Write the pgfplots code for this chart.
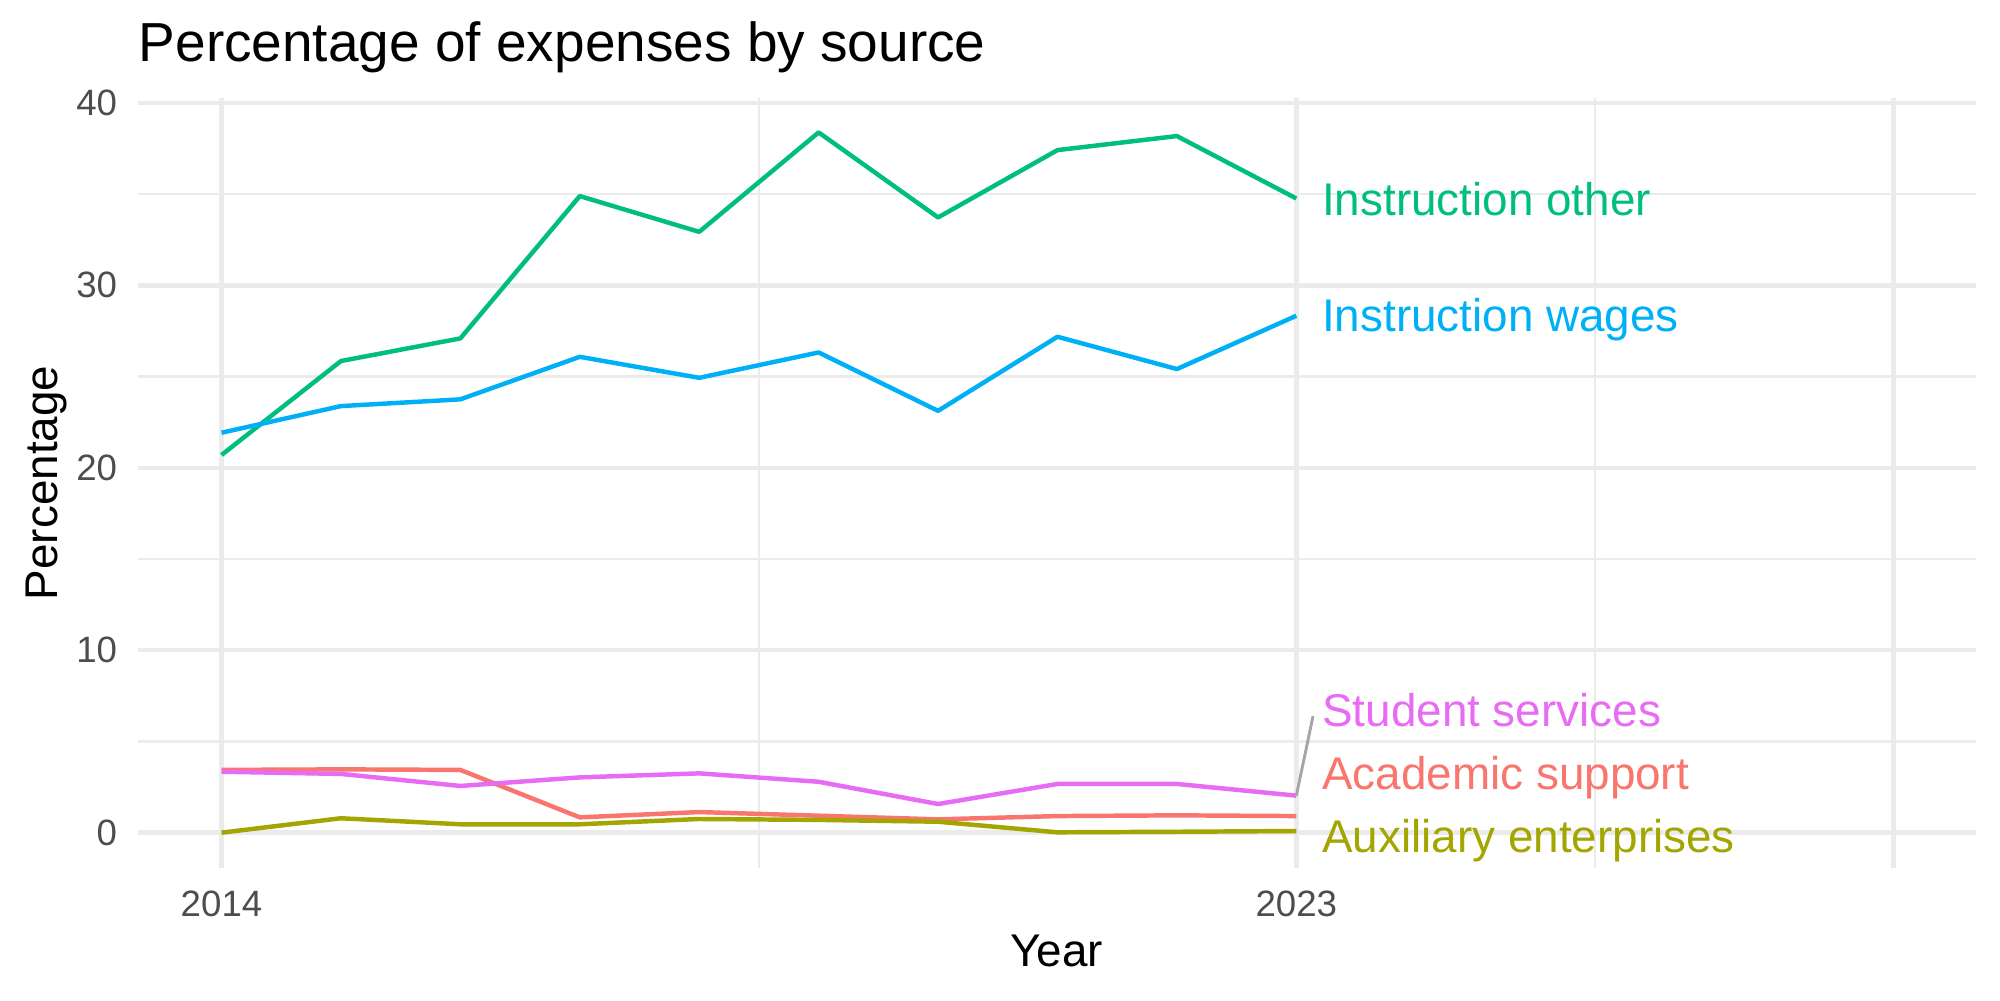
\documentclass[border=0pt]{standalone}
\usepackage{pgfplots}
\usepackage{pgfplotstable}
\pgfplotsset{compat=1.18}
\usepackage{fontspec}
\setmainfont{Liberation Sans}

\definecolor{cAcad}{HTML}{F8766D}
\definecolor{cAux}{HTML}{A3A500}
\definecolor{cOther}{HTML}{00BF7D}
\definecolor{cWages}{HTML}{00B0F6}
\definecolor{cStud}{HTML}{E76BF3}
\definecolor{gridc}{HTML}{EBEBEB}
\definecolor{tickc}{HTML}{4D4D4D}
\definecolor{leader}{HTML}{A6A6A6}

\pgfplotstableread{
Year Acad Aux Other Wages Stud
2014 3.44 0.00 20.70 21.92 3.34
2015 3.47 0.79 25.85 23.38 3.22
2016 3.44 0.46 27.09 23.75 2.56
2017 0.84 0.46 34.89 26.08 3.03
2018 1.13 0.75 32.93 24.93 3.25
2019 0.93 0.70 38.38 26.32 2.79
2020 0.73 0.60 33.72 23.12 1.57
2021 0.91 0.02 37.41 27.18 2.67
2022 0.95 0.05 38.18 25.41 2.67
2023 0.91 0.09 34.76 28.33 2.03
}\datatable

\begin{document}
\begin{tikzpicture}
\useasboundingbox (-33.1bp,-31.75bp) rectangle (446.9bp,208.25bp);
\begin{axis}[
  scale only axis,
  width=441.1bp, height=184.7bp,
  xmin=2013.30, xmax=2028.69,
  ymin=-1.92, ymax=40.26,
  clip=false,
  axis line style={draw=none},
  tick style={draw=none},
  major tick length=0pt, minor tick length=0pt,
  xtick={2014,2023,2028},
  xticklabels={2014,2023,{}},
  minor xtick={2018.5,2025.5},
  ytick={0,10,20,30,40},
  minor ytick={5,15,25,35},
  grid=both,
  major grid style={draw=gridc, line width=1.07bp},
  minor grid style={draw=gridc, line width=0.53bp},
  /pgf/number format/assume math mode=true,
  tick label style={font=\fontsize{8.8bp}{10bp}\selectfont, text=tickc, inner sep=0pt},
  yticklabel style={anchor=east, xshift=-4.8bp},
  xticklabel style={anchor=north, yshift=-5.35bp},
  title={Percentage of expenses by source},
  title style={at={(axis description cs:0,1)}, anchor=base west, inner sep=0pt, yshift=2.72bp, font=\fontsize{13.2bp}{15bp}\selectfont},
  xlabel={Year},
  xlabel style={at={(axis description cs:0.5,-0.1286)}, anchor=base, inner sep=0pt, font=\fontsize{11bp}{13bp}\selectfont},
  ylabel={Percentage},
  ylabel style={at={(axis description cs:-0.044,0.5)}, rotate=0, anchor=base, inner sep=0pt, font=\fontsize{11bp}{13bp}\selectfont},
  every axis plot/.append style={line width=1.07bp, line join=round, mark=none},
]
\addplot[cAcad] table[x=Year, y=Acad] {\datatable};
\addplot[cAux] table[x=Year, y=Aux] {\datatable};
\addplot[cOther] table[x=Year, y=Other] {\datatable};
\addplot[cWages] table[x=Year, y=Wages] {\datatable};
\addplot[cStud] table[x=Year, y=Stud] {\datatable};
\addplot[leader, line width=0.7bp] coordinates {(2023,2.03) (2023.14,6.39)};
\begin{scope}[every node/.style={anchor=base west, inner sep=0pt, font=\fontsize{11bp}{13bp}\selectfont}]
\node[text=cOther] at (axis cs:2023.21,33.85) {Instruction other};
\node[text=cWages] at (axis cs:2023.21,27.45) {Instruction wages};
\node[text=cStud] at (axis cs:2023.21,5.81) {Student services};
\node[text=cAcad] at (axis cs:2023.21,2.38) {Academic support};
\node[text=cAux] at (axis cs:2023.21,-1.10) {Auxiliary enterprises};
\end{scope}
\end{axis}
\end{tikzpicture}
\end{document}
